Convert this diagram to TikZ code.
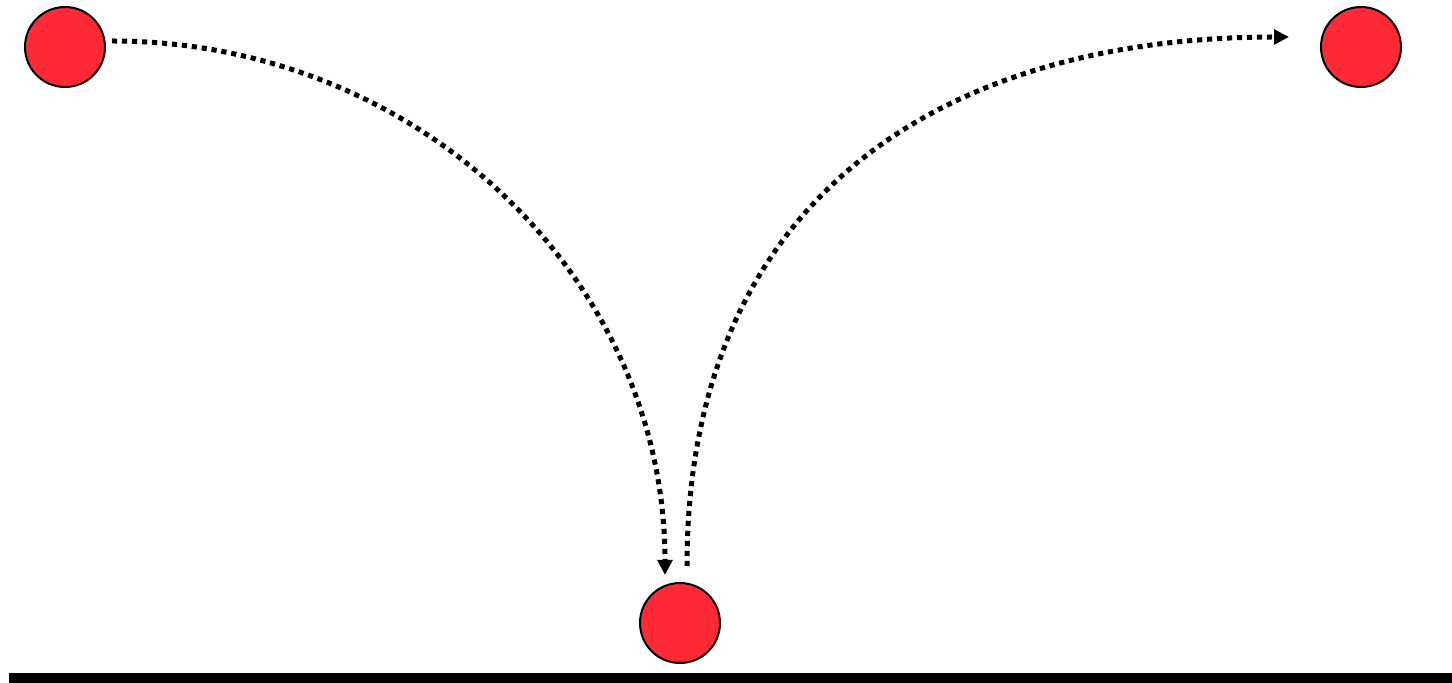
\documentclass[tikz,border=0pt]{standalone}
\usetikzlibrary{arrows.meta}
\definecolor{ballred}{HTML}{FF2A36}
\tikzset{
  ball/.style={circle, draw=black, line width=1pt, fill=ballred, minimum size=40pt, inner sep=0pt},
  dotpath/.style={line width=2.5pt, dash pattern=on 2.6pt off 2.4pt, -{Triangle[length=7.5pt,width=7.3pt]}}
}
\begin{document}
\begin{tikzpicture}[x=0.5pt,y=-0.5pt]
\useasboundingbox (0,0) rectangle (1452,683);
\node[ball] (a) at (65,47) {};
\node[ball] (b) at (680,623) {};
\node[ball] (c) at (1361,47) {};
\fill[black] (9,673) rectangle (1452,683);
\coordinate (s1) at (112,41);
\coordinate (e1) at (665,575);
\coordinate (s2) at (687,566);
\coordinate (e2) at (1289,37);
\draw[dotpath] (s1) .. controls (420,41) and (665,280) .. (e1);
\draw[dotpath] (s2) .. controls (687,200) and (940,37) .. (e2);
\end{tikzpicture}
\end{document}
